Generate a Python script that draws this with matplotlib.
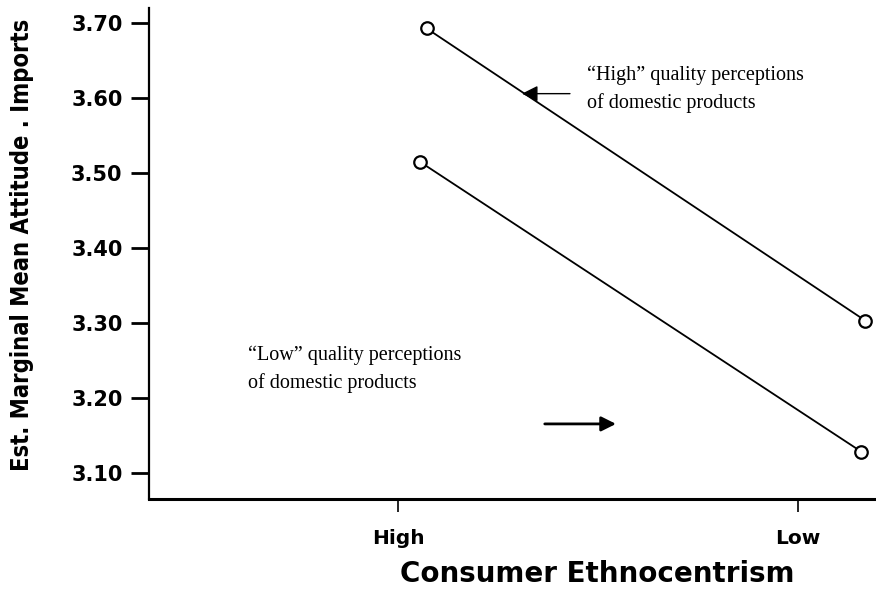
import matplotlib.pyplot as plt

# category axis: High / Low consumer ethnocentrism
categories = ['High', 'Low']

# estimated marginal means
high_quality_x = [0.072, 1.168]
high_quality_y = [3.693, 3.303]
low_quality_x = [0.055, 1.158]
low_quality_y = [3.515, 3.128]

y_ticks = [3.10, 3.20, 3.30, 3.40, 3.50, 3.60, 3.70]

fig = plt.figure(figsize=(8.76, 5.91), dpi=100)
ax = fig.add_axes([0.170, 0.156, 0.830, 0.830])

# the two lines with open circle markers
for xs, ys in [(high_quality_x, high_quality_y), (low_quality_x, low_quality_y)]:
    ax.plot(xs, ys, color='black', linewidth=1.3, marker='o', markersize=9,
            markerfacecolor='white', markeredgecolor='black', markeredgewidth=1.6)

ax.set_xlim(-0.6225, 1.195)
ax.set_ylim(3.065, 3.72)

ax.set_yticks(y_ticks)
ax.set_yticklabels([f'{v:.2f}' for v in y_ticks], fontsize=15, fontweight='bold')
ax.set_xticks(range(len(categories)))
ax.set_xticklabels(categories, fontsize=14.5, fontweight='bold')

ax.tick_params(axis='y', direction='out', length=13, width=2, pad=6)
ax.tick_params(axis='x', direction='out', length=9, width=1.2, pad=13)

for side in ['top', 'right']:
    ax.spines[side].set_visible(False)
ax.spines['left'].set_linewidth(1.6)
ax.spines['bottom'].set_linewidth(2.2)

ax.set_xlabel('Consumer Ethnocentrism', fontsize=20, fontweight='bold', va='center')
ax.xaxis.set_label_coords(0.616, -0.153)
ax.set_ylabel('Est. Marginal Mean Attitude . Imports', fontsize=17, fontweight='bold',
              family='DejaVu Sans', stretch='condensed')
ax.yaxis.set_label_coords(-0.158, 0.518)

# annotations with arrows
ax.text(0.473, 3.612, '\u201cHigh\u201d quality perceptions\nof domestic products',
        family='Liberation Serif', fontsize=14.5, ha='left', va='center', linespacing=1.55)
ax.annotate('', xy=(0.31, 3.606), xytext=(0.43, 3.606),
            arrowprops=dict(arrowstyle='-|>', color='black', lw=1.0,
                            mutation_scale=24, shrinkA=0, shrinkB=0))

ax.text(-0.375, 3.238, '\u201cLow\u201d quality perceptions\nof domestic products',
        family='Liberation Serif', fontsize=14.5, ha='left', va='center', linespacing=1.55)
ax.annotate('', xy=(0.545, 3.165), xytext=(0.367, 3.165),
            arrowprops=dict(arrowstyle='-|>', color='black', lw=2.0,
                            mutation_scale=22, shrinkA=0, shrinkB=0))

fig.savefig('out.png', dpi=100)
